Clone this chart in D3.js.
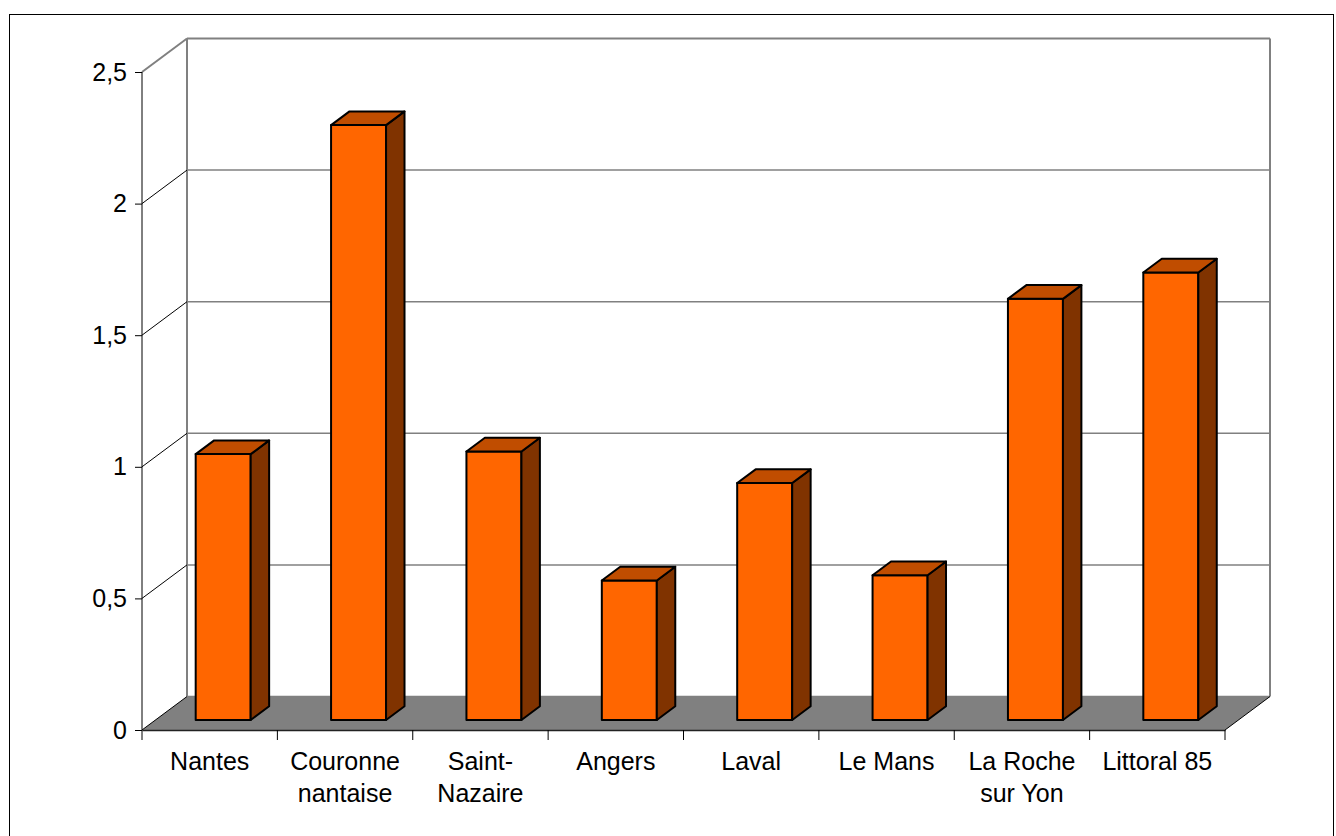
<!DOCTYPE html>
<html>
<head>
<meta charset="utf-8">
<script src="https://cdn.jsdelivr.net/npm/d3@7"></script>
<style>
  body { margin: 0; background: #fff; }
  text { font-family: "Liberation Sans", Arial, sans-serif; font-size: 25px; fill: #000; }
</style>
</head>
<body>
<div id="chart"></div>
<script>
// data
const categories = ["Nantes", "Couronne nantaise", "Saint-Nazaire", "Angers", "Laval", "Le Mans", "La Roche sur Yon", "Littoral 85"];
const labelLines = [["Nantes"], ["Couronne", "nantaise"], ["Saint-", "Nazaire"], ["Angers"], ["Laval"], ["Le Mans"], ["La Roche", "sur Yon"], ["Littoral 85"]];
const values = [1.01, 2.26, 1.02, 0.53, 0.90, 0.55, 1.60, 1.70];
const yTicks = [0, 0.5, 1, 1.5, 2, 2.5];

const W = 1336, H = 836;
const svg = d3.select("#chart").append("svg")
    .attr("width", W).attr("height", H);

// outer frame
svg.append("rect")
    .attr("x", 9.5).attr("y", 14.5)
    .attr("width", 1324).attr("height", 830)
    .attr("fill", "none").attr("stroke", "#000").attr("stroke-width", 1);

// front plane scales
const x = d3.scaleBand().domain(categories).range([142, 1225]).padding(0);
const y = d3.scaleLinear().domain([0, 2.5]).range([730, 72]);

// depth offset (0 = front, 1 = back wall)
const DX = 45, DY = -33.5;
const proj = (px, py, d) => [px + DX * d, py + DY * d];
const poly = pts => "M" + pts.map(p => p.join(",")).join("L") + "Z";

const x0 = x.range()[0], x1 = x.range()[1];

// floor
svg.append("path")
    .attr("d", poly([proj(x0, y(0), 0), proj(x1, y(0), 0), proj(x1, y(0), 1), proj(x0, y(0), 1)]))
    .attr("fill", "#808080").attr("stroke", "none");

// back wall gridlines
yTicks.forEach(t => {
    const a = proj(x0, y(t), 1), b = proj(x1, y(t), 1);
    svg.append("line")
        .attr("x1", a[0]).attr("y1", a[1]).attr("x2", b[0]).attr("y2", b[1])
        .attr("stroke", "#808080").attr("stroke-width", t === 2.5 ? 2 : 1.5);
});

// back wall edges
[x0, x1].forEach(px => {
    const a = proj(px, y(0), 1), b = proj(px, y(2.5), 1);
    svg.append("line")
        .attr("x1", a[0]).attr("y1", a[1]).attr("x2", b[0]).attr("y2", b[1])
        .attr("stroke", "#808080").attr("stroke-width", 2);
});

// side wall diagonals from front axis ticks
yTicks.forEach(t => {
    const a = proj(x0, y(t), 0), b = proj(x0, y(t), 1);
    svg.append("line")
        .attr("x1", a[0]).attr("y1", a[1]).attr("x2", b[0]).attr("y2", b[1])
        .attr("stroke", t === 2.5 ? "#808080" : "#000").attr("stroke-width", t === 2.5 ? 2 : 1);
});
// floor right diagonal
{
    const a = proj(x1, y(0), 0), b = proj(x1, y(0), 1);
    svg.append("line")
        .attr("x1", a[0]).attr("y1", a[1]).attr("x2", b[0]).attr("y2", b[1])
        .attr("stroke", "#000").attr("stroke-width", 1);
}

// front value axis
const yAxis = svg.append("g")
    .attr("transform", `translate(${x0},0)`)
    .call(d3.axisLeft(y).tickValues(yTicks).tickSize(7).tickPadding(8)
        .tickFormat(d => d3.format("")(d).replace(".", ",")));
yAxis.attr("font-size", null).attr("font-family", null);
yAxis.select(".domain").attr("stroke", "#000").attr("d", `M0,${y(2.5)}V${y(0)}`);
yAxis.selectAll(".tick line").attr("stroke", "#000");

// front category axis
const xAxis = svg.append("g")
    .attr("transform", `translate(0,${y(0)})`)
    .call(d3.axisBottom(x).tickValues([]).tickSizeOuter(0));
xAxis.select(".domain").attr("stroke", "#222").attr("stroke-width", 1.5);
const bounds = categories.map(c => x(c)).concat([x1]);
xAxis.selectAll(".cat-tick").data(bounds).enter().append("line")
    .attr("class", "cat-tick")
    .attr("x1", d => d).attr("x2", d => d)
    .attr("y1", 0).attr("y2", 10)
    .attr("stroke", "#000");

// category labels
const labels = svg.append("g").selectAll("text")
    .data(categories).enter().append("text")
    .attr("text-anchor", "middle")
    .attr("x", d => x(d) + x.bandwidth() / 2)
    .attr("y", y(0) + 40);
labels.each(function(d, i) {
    const t = d3.select(this);
    labelLines[i].forEach((ln, j) => {
        t.append("tspan")
            .attr("x", x(d) + x.bandwidth() / 2)
            .attr("dy", j === 0 ? 0 : 32)
            .text(ln);
    });
});

// 3D bars
const dFront = 0.30, dBack = 0.71;
const barW = 55;
const bars = svg.append("g").selectAll("g")
    .data(categories.map((c, i) => ({c, v: values[i]})))
    .enter().append("g");

bars.each(function(d) {
    const g = d3.select(this);
    const cx = x(d.c) + x.bandwidth() / 2;
    const l = cx - barW / 2, r = cx + barW / 2;
    const top = y(d.v), base = y(0);
    // front face
    g.append("path")
        .attr("d", poly([proj(l, base, dFront), proj(r, base, dFront), proj(r, top, dFront), proj(l, top, dFront)]))
        .attr("fill", "#FF6600").attr("stroke", "#000").attr("stroke-width", 2).attr("stroke-linejoin", "round");
    // side face
    g.append("path")
        .attr("d", poly([proj(r, base, dFront), proj(r, base, dBack), proj(r, top, dBack), proj(r, top, dFront)]))
        .attr("fill", "#803300").attr("stroke", "#000").attr("stroke-width", 2).attr("stroke-linejoin", "round");
    // top face
    g.append("path")
        .attr("d", poly([proj(l, top, dFront), proj(r, top, dFront), proj(r, top, dBack), proj(l, top, dBack)]))
        .attr("fill", "#C04D00").attr("stroke", "#000").attr("stroke-width", 2).attr("stroke-linejoin", "round");
});
</script>
</body>
</html>
